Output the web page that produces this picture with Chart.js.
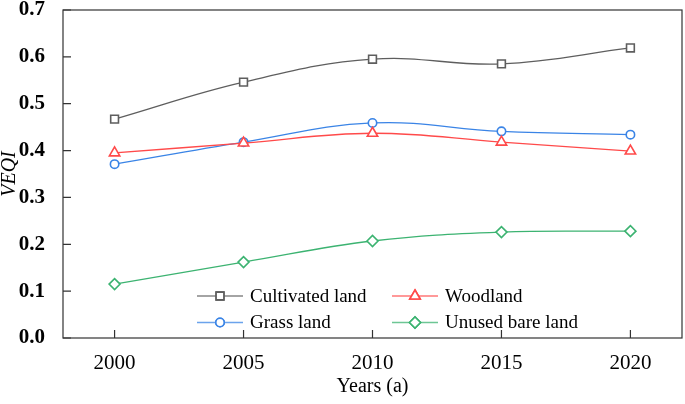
<!DOCTYPE html>
<html>
<head>
<meta charset="utf-8">
<script src="https://cdn.jsdelivr.net/npm/chart.js@4.4.1/dist/chart.umd.min.js"></script>
<style>
    html, body { margin: 0; padding: 0; background: #fff; overflow: hidden; }
    canvas { display: block; }
</style>
</head>
<body>
<canvas id="veqiChart" width="685" height="404"></canvas>
<script>
const years = [2000, 2005, 2010, 2015, 2020];
const cultivated = [0.467, 0.546, 0.595, 0.585, 0.619];
const woodland = [0.395, 0.416, 0.437, 0.418, 0.399];
const grass = [0.371, 0.418, 0.459, 0.441, 0.434];
const unused = [0.115, 0.162, 0.207, 0.226, 0.228];
const yTicks = [0, 0.1, 0.2, 0.3, 0.4, 0.5, 0.6, 0.7];

const serif = "'Liberation Serif', 'Times New Roman', serif";

function toPoints(vals) {
    return vals.map((v, i) => ({ x: years[i], y: v }));
}

function makeSet(label, vals, color, style, radius) {
    return {
        label: label,
        data: toPoints(vals),
        borderColor: color,
        borderWidth: 1.3,
        tension: 0.4,
        pointStyle: style,
        pointRadius: radius,
        pointBorderWidth: 1.6,
        pointBorderColor: color,
        pointBackgroundColor: '#fff'
    };
}

const sets = [
    makeSet('Cultivated land', cultivated, '#5e5e5e', 'rect', 5.5),
    makeSet('Woodland', woodland, '#ff4a4a', 'triangle', 6),
    makeSet('Grass land', grass, '#3a84e6', 'circle', 4.2),
    makeSet('Unused bare land', unused, '#3cb371', 'rectRot', 5.5)
];

// frame, inward ticks and the legend inside the plot
const framePlugin = {
    id: 'frame',
    afterDraw(chart) {
        const ctx = chart.ctx;
        const a = chart.chartArea;
        const xs = chart.scales.x, ys = chart.scales.y;
        ctx.save();
        ctx.strokeStyle = '#333';
        ctx.lineWidth = 1.2;
        ctx.strokeRect(a.left, a.top, a.right - a.left, a.bottom - a.top);
        ctx.beginPath();
        yTicks.forEach(v => {
            const y = ys.getPixelForValue(v);
            ctx.moveTo(a.left, y);
            ctx.lineTo(a.left + 8, y);
        });
        years.forEach(v => {
            const x = xs.getPixelForValue(v);
            ctx.moveTo(x, a.bottom);
            ctx.lineTo(x, a.bottom - 8);
        });
        ctx.stroke();

        // legend, two columns
        const cols = [a.left + 134, a.left + 329];
        const rows = [a.bottom - 42, a.bottom - 15.5];
        ctx.font = '19px ' + serif;
        ctx.textBaseline = 'middle';
        ctx.fillStyle = '#000';
        sets.forEach((ds, i) => {
            const x0 = cols[i % 2];
            const y0 = rows[Math.floor(i / 2)];
            ctx.strokeStyle = ds.borderColor;
            ctx.globalAlpha = 0.75;
            ctx.lineWidth = 1.6;
            ctx.beginPath();
            ctx.moveTo(x0, y0);
            ctx.lineTo(x0 + 46, y0);
            ctx.stroke();
            ctx.globalAlpha = 1;
            ctx.fillStyle = '#fff';
            ctx.lineWidth = 1.6;
            Chart.helpers.drawPoint(ctx, {
                pointStyle: ds.pointStyle,
                radius: ds.pointRadius,
                borderWidth: 1.6
            }, x0 + 23, y0);
            ctx.fill();
            ctx.stroke();
            ctx.fillStyle = '#000';
            ctx.fillText(ds.label, x0 + 53, y0 + 1);
        });
        ctx.restore();
    }
};

new Chart(document.getElementById('veqiChart'), {
    type: 'line',
    data: { datasets: sets },
    plugins: [framePlugin],
    options: {
        responsive: false,
        animation: false,
        layout: { autoPadding: false, padding: { top: 10, right: 3, left: 0, bottom: 0 } },
        plugins: {
            legend: { display: false },
            tooltip: { enabled: false }
        },
        scales: {
            x: {
                type: 'linear',
                min: 1998,
                max: 2022,
                afterBuildTicks: s => { s.ticks = years.map(v => ({ value: v })); },
                afterFit: s => { s.height = 66; s.paddingLeft = 0; s.paddingRight = 0; },
                grid: { display: false },
                border: { display: false },
                ticks: {
                    color: '#000',
                    padding: 5,
                    maxRotation: 0,
                    font: { family: serif, size: 21 },
                    callback: v => String(v)
                },
                title: {
                    display: true,
                    text: 'Years (a)',
                    color: '#000',
                    font: { family: serif, size: 20 },
                    padding: { top: 0, bottom: 5 }
                }
            },
            y: {
                min: 0,
                max: 0.7,
                afterBuildTicks: s => { s.ticks = yTicks.map(v => ({ value: v })); },
                afterFit: s => { s.width = 63; s.paddingTop = 0; s.paddingBottom = 0; },
                grid: { display: false },
                border: { display: false },
                ticks: {
                    color: '#000',
                    padding: 10,
                    font: { family: serif, size: 21, weight: 'bold' },
                    callback: v => v.toFixed(1)
                },
                title: {
                    display: true,
                    text: 'VEQI',
                    color: '#000',
                    font: { family: serif, size: 20, style: 'italic' },
                    padding: { top: -2, bottom: 0 }
                }
            }
        }
    }
});
</script>
</body>
</html>
